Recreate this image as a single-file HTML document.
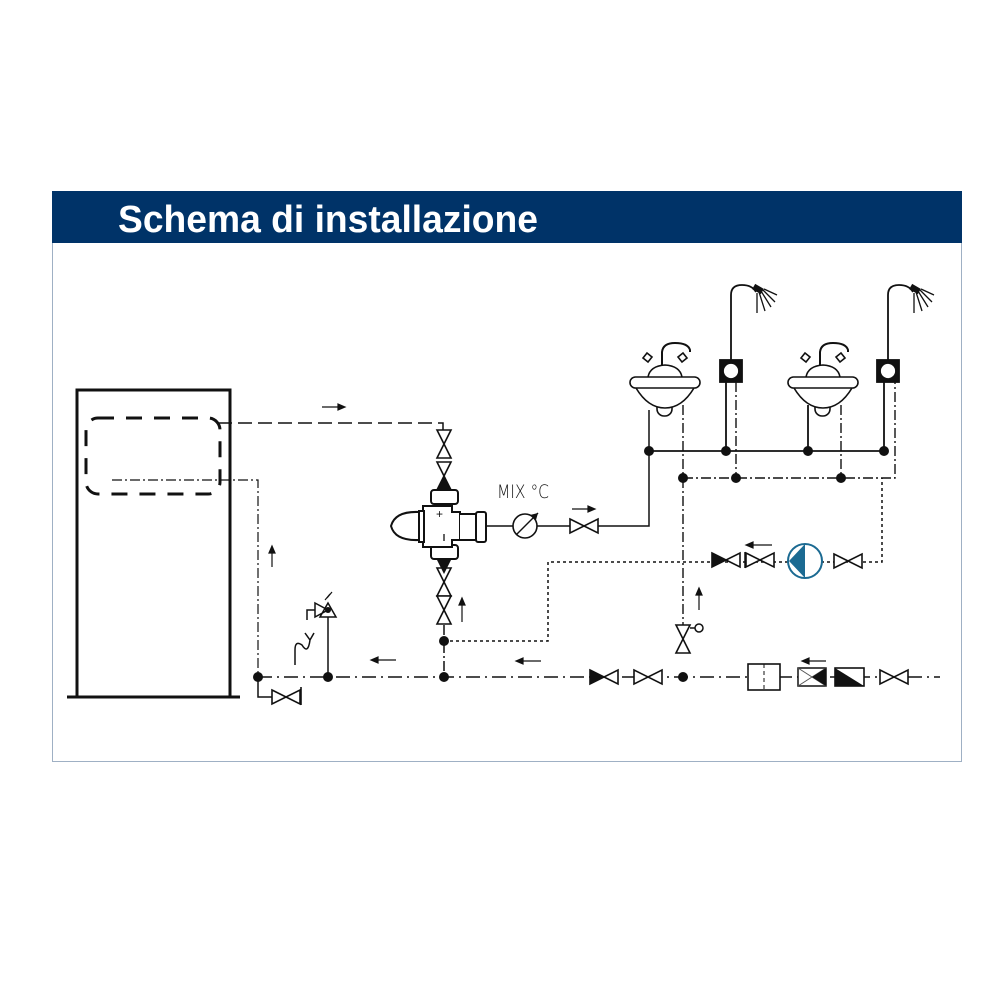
<!DOCTYPE html>
<html><head><meta charset="utf-8"><style>body{margin:0;background:#fff}svg{display:block}</style></head>
<body>
<svg width="1000" height="1000" viewBox="0 0 1000 1000" xmlns="http://www.w3.org/2000/svg" font-family="Liberation Sans, sans-serif">
<defs>
<g id="v"><path d="M0,0 L28,14 L28,0 L0,14 Z" fill="#fff" stroke="#111" stroke-width="1.6"/></g>
<g id="vv"><path d="M0,0 L14,28 L0,28 L14,0 Z" fill="#fff" stroke="#111" stroke-width="1.6"/></g>
</defs>
<rect x="52.5" y="191.5" width="909" height="570" fill="#fff" stroke="#9fb0c4" stroke-width="1"/>
<rect x="52" y="191" width="910" height="52" fill="#003368"/>
<text x="118" y="232" fill="#fff" font-size="38" font-weight="bold" textLength="420" lengthAdjust="spacingAndGlyphs">Schema di installazione</text>

<g stroke="#111" fill="none">
<rect x="77" y="390" width="153" height="307" stroke-width="3"/>
<line x1="67" y1="697" x2="240" y2="697" stroke-width="3"/>
<rect x="86" y="418" width="134" height="76" rx="12" stroke-width="3" stroke-dasharray="16,12"/>
<path d="M218,423 H443 V430" stroke-width="1.5" stroke-dasharray="14,6"/>
<path d="M112,480 H258 V677" stroke-width="1.2" stroke-dasharray="10,3,2,3"/>
<path d="M258,677 H940" stroke-width="1.5" stroke-dasharray="14,5,2,5"/>
<path d="M258,677 V697 H272" stroke-width="1.5"/>
<path d="M328,677 V615" stroke-width="1.5"/>
<path d="M320,617 L328,603 L336,617 Z M315,603 L328,610 L315,617 Z" fill="#fff" stroke-width="1.5"/>
<path d="M315,610 H307 V620" stroke-width="1.5"/>
<path d="M295,665 V650 Q295,640 302,645 Q308,655 310,640 M305,633 L310,640 L314,633" stroke-width="1.5"/>
<path d="M325,600 L330,594 L327,598 L332,592" stroke-width="1.2"/>
<path d="M444,625 V677" stroke-width="1.5" stroke-dasharray="10,3,2,3"/>
<path d="M444,641 H548 V562 H882 V478" stroke-width="1.5" stroke-dasharray="3,3"/>
<path d="M485,526 H649 V451 M649,451 V410" stroke-width="1.5"/>
<circle cx="525" cy="526" r="12" stroke-width="1.6" fill="#fff"/>
<path d="M516,535 L538,513" stroke-width="1.4"/>
<path d="M649,451 H884" stroke-width="1.8"/>
<path d="M683,478 H895 V382" stroke-width="1.4" stroke-dasharray="10,3,2,3"/>
<path d="M683,478 V625" stroke-width="1.4" stroke-dasharray="10,3,2,3"/>
<path d="M683,405 V478 M841,405 V478 M736,382 V478" stroke-width="1.4" stroke-dasharray="10,3,2,3"/>
<path d="M808,405 V451 M726,382 V451 M884,382 V451" stroke-width="1.8"/>
<path d="M731,370 V295 Q731,285 742,285 Q752,285 756,292" stroke-width="1.8"/>
<path d="M888,370 V295 Q888,285 899,285 Q909,285 913,292" stroke-width="1.8"/>
<path d="M757,293 l0,20 M759,292 l6,19 M761,291 l10,16 M763,290 l12,12 M764,289 l13,6" stroke-width="1.3"/>
<path d="M914,293 l0,20 M916,292 l6,19 M918,291 l10,16 M920,290 l12,12 M921,289 l13,6" stroke-width="1.3"/>
</g>
<rect x="753" y="286" width="10" height="6" transform="rotate(30 758 289)" fill="#111"/>
<rect x="910" y="286" width="10" height="6" transform="rotate(30 915 289)" fill="#111"/>
<g stroke="#111" stroke-width="1.8">
<rect x="720" y="360" width="22" height="22" fill="#111"/><circle cx="731" cy="371" r="8" fill="#fff"/>
<rect x="877" y="360" width="22" height="22" fill="#111"/><circle cx="888" cy="371" r="8" fill="#fff"/>
</g>
<g id="sink" stroke="#111" stroke-width="1.6" fill="#fff">
<path d="M662,365 V352 Q663,343 675,343 Q688,343 690,350 V352" fill="none" stroke-width="2"/>
<path d="M648,377 Q650,366 665,365 Q680,366 682,377" />
<path d="M648,362 l-5,-4 4,-5 5,4 z M682,362 l5,-4 -4,-5 -5,4 z"/>
<rect x="657" y="396" width="15" height="20" rx="7"/>
<path d="M636,388 Q648,408 665,408 Q682,408 694,388"/>
<rect x="630" y="377" width="70" height="11" rx="5.5"/>
</g>
<use href="#sink" x="158"/>
<g fill="#111">
<circle cx="258" cy="677" r="5"/><circle cx="328" cy="677" r="5"/><circle cx="444" cy="677" r="5"/><circle cx="444" cy="641" r="5"/><circle cx="683" cy="677" r="5"/>
<circle cx="649" cy="451" r="5"/><circle cx="726" cy="451" r="5"/><circle cx="808" cy="451" r="5"/><circle cx="884" cy="451" r="5"/>
<circle cx="683" cy="478" r="5"/><circle cx="736" cy="478" r="5"/><circle cx="841" cy="478" r="5"/>
<circle cx="328" cy="610" r="3"/>
</g>
<use href="#v" x="272" y="690"/><line x1="301" y1="687" x2="301" y2="705" stroke="#111" stroke-width="1.6"/>
<use href="#vv" x="437" y="430"/><use href="#vv" x="437" y="462"/>
<path d="M437,490 L444,476 L451,490 Z" fill="#111"/>
<use href="#vv" x="437" y="568"/><use href="#vv" x="437" y="596"/>
<path d="M437,560 L444,574 L451,560 Z" fill="#111"/>
<g stroke="#111" stroke-width="2" fill="#fff">
<rect x="431" y="490" width="27" height="14" rx="3"/>
<rect x="431" y="545" width="27" height="14" rx="3"/>
<path d="M423,506 H452 V512 H460 V540 H452 V547 H423 Z"/>
<rect x="476" y="512" width="10" height="30" rx="2"/>
<path d="M460,514 H476 V540 H460"/>
<path d="M419,512 Q395,511 391,526 Q395,541 419,540 Z"/>
<rect x="419" y="511" width="5" height="31"/>
</g>
<text x="436" y="518" font-size="12" fill="#111">+</text>
<line x1="444" y1="534" x2="444" y2="541" stroke="#111" stroke-width="1.3"/>
<path d="M538,513 l-8,2 6,5 z" fill="#111"/>
<text x="497" y="498" font-size="19" fill="#111" font-family="DejaVu Sans, sans-serif" font-weight="200" textLength="52" lengthAdjust="spacingAndGlyphs">MIX °C</text>
<use href="#v" x="570" y="519"/>
<use href="#v" x="712" y="553"/><path d="M712,553 L726,560 L712,567 Z" fill="#111"/>
<use href="#v" x="746" y="553"/><line x1="745" y1="552" x2="745" y2="568" stroke="#111" stroke-width="1.5"/>
<circle cx="805" cy="561" r="17" fill="#fff" stroke="#1b6a92" stroke-width="2"/>
<path d="M805,544 L789,561 L805,578 Z" fill="#1b6a92"/>
<use href="#v" x="834" y="554"/>
<use href="#vv" x="676" y="625"/>
<path d="M690,628 H695" stroke="#111" stroke-width="1.5"/><circle cx="699" cy="628" r="4" fill="#fff" stroke="#111" stroke-width="1.5"/>
<use href="#v" x="590" y="670"/><path d="M590,670 L604,677 L590,684 Z" fill="#111"/>
<use href="#v" x="634" y="670"/>
<rect x="748" y="664" width="32" height="26" fill="#fff" stroke="#111" stroke-width="1.6"/><line x1="764" y1="664" x2="764" y2="690" stroke="#111" stroke-dasharray="4,3"/>
<rect x="798" y="668" width="28" height="18" fill="#fff" stroke="#111" stroke-width="1.5"/>
<path d="M798,668 L826,686 M798,686 L826,668" stroke="#555" stroke-width="1"/><path d="M826,668 L812,677 L826,686 Z" fill="#111"/>
<rect x="835" y="668" width="29" height="18" fill="#fff" stroke="#111" stroke-width="1.6"/><path d="M835,668 L864,686 H835 Z" fill="#111"/>
<use href="#v" x="880" y="670"/>
<g stroke="#111" stroke-width="1.2" fill="#111">
<line x1="322" y1="407" x2="340" y2="407"/><path d="M345,407 l-7,-3 v6 z"/>
<line x1="272" y1="567" x2="272" y2="552"/><path d="M272,546 l-3,7 h6 z"/>
<line x1="462" y1="622" x2="462" y2="604"/><path d="M462,598 l-3,7 h6 z"/>
<line x1="699" y1="610" x2="699" y2="594"/><path d="M699,588 l-3,7 h6 z"/>
<line x1="572" y1="509" x2="590" y2="509"/><path d="M595,509 l-7,-3 v6 z"/>
<line x1="376" y1="660" x2="396" y2="660"/><path d="M371,660 l7,-3 v6 z"/>
<line x1="522" y1="661" x2="541" y2="661"/><path d="M516,661 l7,-3 v6 z"/>
<line x1="752" y1="545" x2="772" y2="545"/><path d="M746,545 l7,-3 v6 z"/>
<line x1="808" y1="661" x2="826" y2="661"/><path d="M802,661 l7,-3 v6 z"/>
</g>
</svg>
</body></html>
